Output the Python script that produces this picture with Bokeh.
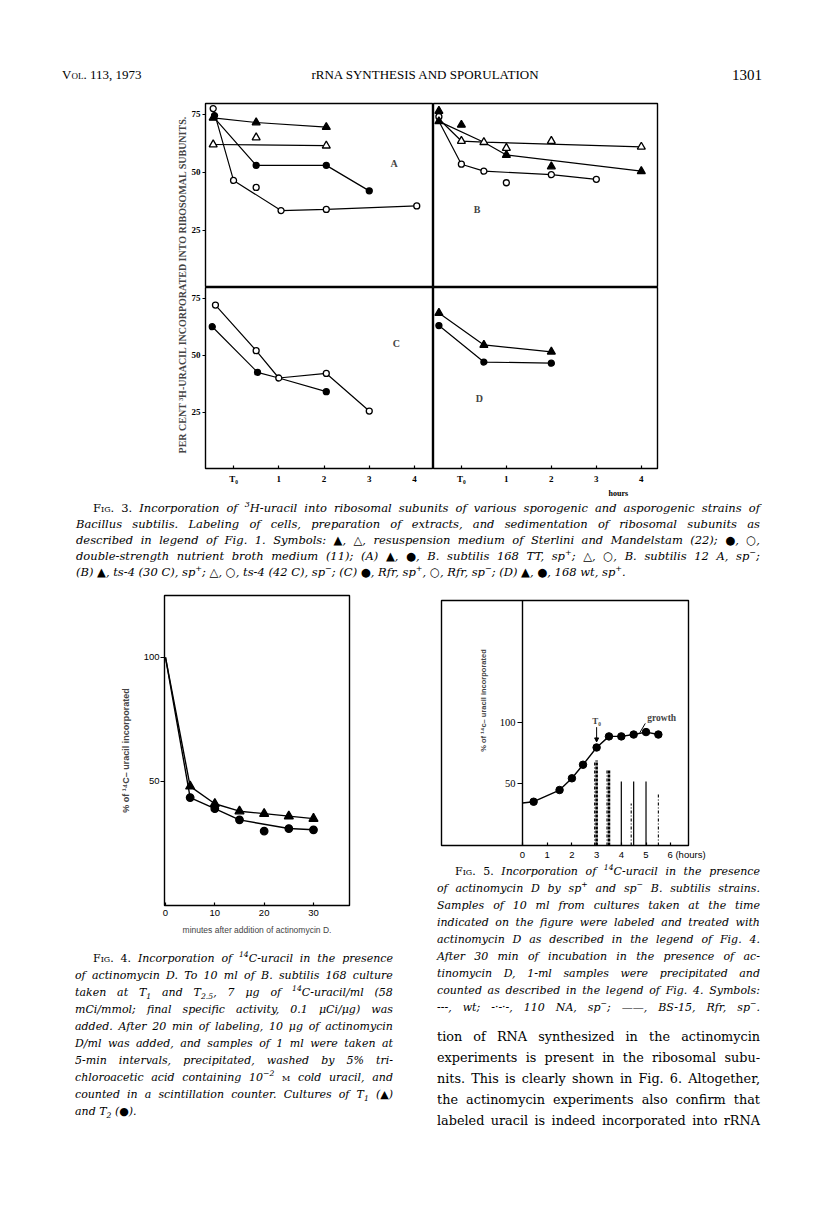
import numpy as np
from bokeh.plotting import figure
from bokeh.models import Label, Div, Arrow, NormalHead, FixedTicker, Range1d, Title
from bokeh.layouts import column, row
from bokeh.embed import file_html
from bokeh.resources import INLINE

# ---------------- Fig. 3 data (per cent 3H-uracil incorporated vs hours) ----------------
f3_xticks = [0, 1, 2, 3, 4]
f3_xlabels = ["T\u2080", "1", "2", "3", "4"]
f3_yticks = [25, 50, 75]

# panel A
A_tri_f_x = [-0.45, 0.5, 2.05]
A_tri_f_y = [73.5, 71.5, 69.5]
A_tri_o_x = [-0.45, 0.5, 2.05]
A_tri_o_y = [62, 65, 61.5]
A_cir_f_x = [-0.42, 0.5, 2.05, 3.0]
A_cir_f_y = [74.5, 53, 53, 42]
A_cir_o_x = [-0.45, 0.0, 0.5, 1.05, 2.05, 4.05]
A_cir_o_y = [77.5, 46.5, 43.5, 33.5, 34, 35.5]
A_curve_tri_f = ([-0.45, 0.5, 2.05], [73.5, 71.5, 69.5])
A_curve_tri_o = ([-0.45, 2.05], [62, 61.5])
A_curve_cir_f = ([-0.45, 0.5, 2.05, 3.0], [74, 53, 53, 42])
A_curve_cir_o = ([-0.45, 0.0, 1.05, 2.05, 4.05], [77.5, 46.5, 33.5, 34, 35.5])

# panel B
B_tri_f_x = [-0.5, -0.5, 0.0, 1.0, 2.0, 4.0]
B_tri_f_y = [76.5, 72, 70.5, 57.5, 52.5, 50.5]
B_tri_o_x = [0.0, 0.5, 1.0, 2.0, 4.0]
B_tri_o_y = [63.5, 63, 60.5, 63.5, 61]
B_cir_o_x = [-0.5, 0.0, 0.5, 1.0, 2.0, 3.0]
B_cir_o_y = [74, 53.5, 50.5, 45.5, 49, 47]
B_curve_tri_o = ([-0.5, 0.0, 0.5, 4.0], [73, 63.5, 63, 61])
B_curve_tri_f = ([-0.5, 0.5, 1.0, 4.0], [72, 63, 57.5, 50.5])
B_curve_cir_o = ([-0.5, 0.0, 0.5, 2.0, 3.0], [72, 53.5, 50.5, 49, 47])

# panel C
C_cir_o_x = [-0.4, 0.5, 1.0, 2.05, 3.0]
C_cir_o_y = [72, 52, 40, 42, 25.5]
C_cir_f_x = [-0.47, 0.53, 2.05]
C_cir_f_y = [62.5, 42.5, 34]
C_curve_cir_o = (C_cir_o_x, C_cir_o_y)
C_curve_cir_f = ([-0.47, 0.53, 1.0, 2.05], [62.5, 42.5, 40, 34])

# panel D
D_tri_f_x = [-0.5, 0.5, 2.0]
D_tri_f_y = [68.5, 54.5, 51.5]
D_cir_f_x = [-0.5, 0.5, 2.0]
D_cir_f_y = [63, 47, 46.5]

# ---------------- Fig. 4 data ----------------
f4_min = [0, 5, 10, 15, 20, 25, 30]
f4_T1 = [100, 48, 41, 38, 37, 36, 35]          # triangles
f4_T2 = [100, 43.5, 39, 34.5, 30, 31, 30.5]    # circles
f4_T2_curve_idx = [0, 1, 2, 3, 5, 6]
f4_xticks = [0, 10, 20, 30]
f4_yticks = [50, 100]

# ---------------- Fig. 5 data ----------------
f5_h = [0.45, 1.5, 2.0, 2.45, 3.0, 3.5, 4.0, 4.5, 5.0, 5.5]
f5_pct = [35.5, 45, 54.5, 65.5, 79.5, 88.5, 88.5, 90, 92, 90]
f5_start = (0.0, 34.5)
wt_x = [3.0, 3.5]
wt_top = [69, 61]
na_x = [2.92, 3.42, 4.4, 5.5]
na_top = [69, 61, 34, 43]
bs_x = [4.0, 4.5, 5.0]
bs_top = [52, 52, 52]
f5_xticks = [0, 1, 2, 3, 4, 5, 6]
f5_xlabels = ["0", "1", "2", "3", "4", "5", "\u00a0" * 12 + "6 (hours)"]
f5_yticks = [50, 100]

NARROW = "Liberation Sans Narrow"
SANS = "Liberation Sans"
SERIF = "DejaVu Serif"


def make_fig(w, h, xr, yr, l, r, t, b, xloc="below", yloc="left"):
    p = figure(width=w, height=h, x_range=Range1d(*xr), y_range=Range1d(*yr),
               output_backend="svg", toolbar_location=None, tools="",
               min_border_left=l, min_border_right=r, min_border_top=t, min_border_bottom=b,
               x_axis_location=xloc, y_axis_location=yloc, margin=(0, 0, 0, 0))
    p.grid.visible = False
    p.outline_line_color = "black"
    p.outline_line_width = 1.4
    p.background_fill_color = "white"
    p.border_fill_color = "white"
    for ax in p.axis:
        ax.axis_line_color = None
        ax.minor_tick_line_color = None
        ax.major_tick_line_color = "black"
        ax.major_tick_line_width = 1.2
        ax.major_label_text_color = "black"
    return p


MS = {"triangle": 8, "circle": 6}


def draw(p, curves, pts, ms=MS, lw=1.2):
    for cx, cy in curves:
        p.line(cx, cy, line_color="black", line_width=lw)
    for mk, filled, x, y in pts:
        p.scatter(x, y, marker=mk, size=ms[mk], fill_color="black" if filled else "white",
                  line_color="black", line_width=1.3)


def f3_axes(p):
    for xa in p.xaxis:
        xa.ticker = FixedTicker(ticks=f3_xticks)
        xa.major_label_overrides = dict(zip(f3_xticks, f3_xlabels))
        xa.major_tick_in = 3
        xa.major_tick_out = 0
        xa.major_label_standoff = 5
        xa.major_label_text_font = NARROW
        xa.major_label_text_font_size = "9px"
        xa.major_label_text_font_style = "bold"
    for ya in p.yaxis:
        ya.ticker = FixedTicker(ticks=f3_yticks)
        ya.major_tick_in = 0
        ya.major_tick_out = 3
        ya.major_label_standoff = 2
        ya.major_label_text_font = NARROW
        ya.major_label_text_font_size = "9px"
        ya.major_label_text_font_style = "bold"


def panel_label(p, txt, x, y):
    p.add_layout(Label(x=x, y=y, text=txt, text_font=NARROW, text_font_size="10px",
                       text_font_style="bold", text_align="center", text_baseline="middle"))


X3A = (-0.62, 4.42)
X3B = (-0.62, 4.36)
Y3 = (0.3, 79.7)

pA = make_fig(245, 192, X3A, Y3, 17, 0, 8, 0, xloc=None)
pB = make_fig(375, 192, X3B, Y3, 0, 151, 8, 0, xloc=None, yloc=None)
pC = make_fig(245, 213, X3A, Y3, 17, 0, 0, 32)
pD = make_fig(375, 213, X3B, Y3, 0, 151, 0, 32, yloc=None)
for p in (pA, pB, pC, pD):
    f3_axes(p)

draw(pA, [A_curve_tri_f, A_curve_tri_o, A_curve_cir_f, A_curve_cir_o],
     [("triangle", True, A_tri_f_x, A_tri_f_y), ("triangle", False, A_tri_o_x, A_tri_o_y),
      ("circle", True, A_cir_f_x, A_cir_f_y), ("circle", False, A_cir_o_x, A_cir_o_y)])
panel_label(pA, "A", 3.55, 54)

draw(pB, [B_curve_tri_o, B_curve_tri_f, B_curve_cir_o],
     [("circle", False, B_cir_o_x, B_cir_o_y), ("triangle", False, B_tri_o_x, B_tri_o_y),
      ("triangle", True, B_tri_f_x, B_tri_f_y)])
panel_label(pB, "B", 0.35, 34)

draw(pC, [C_curve_cir_o, C_curve_cir_f],
     [("circle", True, C_cir_f_x, C_cir_f_y), ("circle", False, C_cir_o_x, C_cir_o_y)])
panel_label(pC, "C", 3.6, 55)

draw(pD, [(D_tri_f_x, D_tri_f_y), (D_cir_f_x, D_cir_f_y)],
     [("triangle", True, D_tri_f_x, D_tri_f_y), ("circle", True, D_cir_f_x, D_cir_f_y)])
panel_label(pD, "D", 0.4, 31)
pD.add_layout(Title(text="hours", align="left", offset=175, standoff=0, text_font=NARROW,
                    text_font_size="8px", text_font_style="bold", text_color="black"), "below")

ylab3 = figure(width=180, height=405, x_range=Range1d(0, 180), y_range=Range1d(0, 405),
               output_backend="svg", toolbar_location=None, tools="", min_border=0,
               x_axis_location=None, y_axis_location=None, margin=(0, 0, 0, 0))
ylab3.grid.visible = False
ylab3.outline_line_color = None
ylab3.add_layout(Label(x=174, y=216, text="PER CENT \u00b3H-URACIL INCORPORATED INTO RIBOSOMAL SUBUNITS.",
                       angle=np.pi / 2, text_align="center", text_baseline="middle",
                       text_font=NARROW, text_font_size="10px", text_font_style="bold"))

fig3 = row(ylab3, column(row(pA, pB), row(pC, pD)))

# ---------------- Fig. 4 ----------------
p4 = make_fig(392, 350, (-0.2, 37.3), (0, 124.9), 156, 51, 5, 35)
for xa in p4.xaxis:
    xa.ticker = FixedTicker(ticks=f4_xticks)
    xa.major_tick_in = 3
    xa.major_tick_out = 0
    xa.major_label_standoff = 4
    xa.major_label_text_font = SANS
    xa.major_label_text_font_size = "9.5px"
    xa.axis_label = "minutes after addition of actinomycin D."
    xa.axis_label_text_font = SANS
    xa.axis_label_text_font_size = "8.5px"
    xa.axis_label_text_font_style = "normal"
    xa.axis_label_standoff = 6
for ya in p4.yaxis:
    ya.ticker = FixedTicker(ticks=f4_yticks)
    ya.major_tick_in = 0
    ya.major_tick_out = 4
    ya.major_label_standoff = 1
    ya.major_label_text_font = SANS
    ya.major_label_text_font_size = "9.5px"
    ya.axis_label = "% of \u00b9\u2074C\u2013 uracil incorporated"
    ya.axis_label_text_font = SANS
    ya.axis_label_text_font_size = "9px"
    ya.axis_label_text_font_style = "bold"
    ya.axis_label_standoff = 10

f4_T2_cx = [f4_min[i] for i in f4_T2_curve_idx]
f4_T2_cy = [f4_T2[i] for i in f4_T2_curve_idx]
draw(p4, [(f4_min, f4_T1), (f4_T2_cx, f4_T2_cy)],
     [("triangle", True, f4_min[1:], f4_T1[1:]), ("circle", True, f4_min[1:], f4_T2[1:])],
     ms={"triangle": 9, "circle": 7.5}, lw=1.4)

# ---------------- Fig. 5 ----------------
p5 = make_fig(408, 272, (-3.28, 6.72), (0, 198.7), 41, 120, 10, 17)
for xa in p5.xaxis:
    xa.ticker = FixedTicker(ticks=f5_xticks)
    xa.major_label_overrides = dict(zip(f5_xticks, f5_xlabels))
    xa.major_tick_in = 3
    xa.major_tick_out = 0
    xa.major_label_standoff = 3
    xa.major_label_text_font = SANS
    xa.major_label_text_font_size = "9.5px"
for ya in p5.yaxis:
    ya.fixed_location = 0
    ya.axis_line_color = "black"
    ya.axis_line_width = 1.4
    ya.ticker = FixedTicker(ticks=f5_yticks)
    ya.major_tick_in = 0
    ya.major_tick_out = 5
    ya.major_label_standoff = 2
    ya.major_label_text_font = NARROW
    ya.major_label_text_font_size = "10.5px"

p5.segment(x0=wt_x, y0=[0] * len(wt_x), x1=wt_x, y1=wt_top, line_color="black",
           line_width=2.6, line_dash="3 1")
p5.segment(x0=na_x, y0=[0] * len(na_x), x1=na_x, y1=na_top, line_color="black",
           line_width=1.1, line_dash="3 2 1 2")
p5.segment(x0=bs_x, y0=[0] * len(bs_x), x1=bs_x, y1=bs_top, line_color="black",
           line_width=1.2)
p5.line([f5_start[0]] + f5_h, [f5_start[1]] + f5_pct, line_color="black", line_width=1.4)
p5.scatter(f5_h, f5_pct, marker="circle", size=7.5, fill_color="black", line_color="black")

p5.add_layout(Label(x=-1.58, y=117.6, text="% of \u00b9\u2074c\u2013 uracil incorporated", angle=np.pi / 2,
                    text_align="center", text_baseline="middle", text_font=SANS,
                    text_font_size="7.5px", text_font_style="bold"))
p5.add_layout(Label(x=3.0, y=101, text="T\u2080", text_align="center", text_baseline="middle",
                    text_font=NARROW, text_font_size="9px", text_font_style="bold"))
p5.add_layout(Arrow(end=NormalHead(size=4, fill_color="black", line_color="black"),
                    x_start=3.0, y_start=96, x_end=3.0, y_end=84, line_width=1, line_color="black"))
p5.add_layout(Label(x=5.05, y=103, text="growth", text_align="left", text_baseline="middle",
                    text_font=NARROW, text_font_size="9.5px", text_font_style="bold"))
p5.add_layout(Arrow(end=None, x_start=4.75, y_start=91.5, x_end=4.97, y_end=99,
                    line_width=1, line_color="black"))

# ---------------- texts ----------------
UP = '<span style="font-style:normal">'
SC = '<span style="font-style:normal;font-variant:small-caps">'
SUP = '<sup style="font-size:0.7em;line-height:0">'
SUB = '<sub style="font-size:0.7em;line-height:0">'

cap3 = [
    f'{SC}Fig.</span> {UP}3.</span> Incorporation of {SUP}3</sup>H-uracil into ribosomal subunits of various sporogenic and asporogenic strains of',
    'Bacillus subtilis. Labeling of cells, preparation of extracts, and sedimentation of ribosomal subunits as',
    'described in legend of Fig. 1. Symbols: \u25b2, \u25b3, resuspension medium of Sterlini and Mandelstam (22); \u25cf, \u25cb,',
    f'double-strength nutrient broth medium (11); (A) \u25b2, \u25cf, B. subtilis 168 TT, sp{SUP}+</sup>; \u25b3, \u25cb, B. subtilis 12 A, sp{SUP}\u2212</sup>;',
    f'(B) \u25b2, ts-4 (30 C), sp{SUP}+</sup>; \u25b3, \u25cb, ts-4 (42 C), sp{SUP}\u2212</sup>; (C) \u25cf, Rfr, sp{SUP}+</sup>, \u25cb, Rfr, sp{SUP}\u2212</sup>; (D) \u25b2, \u25cf, 168 wt, sp{SUP}+</sup>.',
]
cap4 = [
    f'{SC}Fig.</span> {UP}4.</span> Incorporation of {SUP}14</sup>C-uracil in the presence',
    'of actinomycin D. To 10 ml of B. subtilis 168 culture',
    f'taken at T{SUB}1</sub> and T{SUB}2.5</sub>, 7 \u03bcg of {SUP}14</sup>C-uracil/ml (58',
    'mCi/mmol; final specific activity, 0.1 \u03bcCi/\u03bcg) was',
    'added. After 20 min of labeling, 10 \u03bcg of actinomycin',
    'D/ml was added, and samples of 1 ml were taken at',
    '5-min intervals, precipitated, washed by 5% tri-',
    f'chloroacetic acid containing 10{SUP}\u22122</sup> {SC}m</span> cold uracil, and',
    f'counted in a scintillation counter. Cultures of T{SUB}1</sub> (\u25b2)',
    f'and T{SUB}2</sub> (\u25cf).',
]
cap5 = [
    f'{SC}Fig.</span> {UP}5.</span> Incorporation of {SUP}14</sup>C-uracil in the presence',
    f'of actinomycin D by sp{SUP}+</sup> and sp{SUP}\u2212</sup> B. subtilis strains.',
    'Samples of 10 ml from cultures taken at the time',
    'indicated on the figure were labeled and treated with',
    'actinomycin D as described in the legend of Fig. 4.',
    'After 30 min of incubation in the presence of ac-',
    'tinomycin D, 1-ml samples were precipitated and',
    'counted as described in the legend of Fig. 4. Symbols:',
    f'---, wt; -\u00b7-\u00b7-, 110 NA, sp{SUP}\u2212</sup>; \u2014\u2014, BS-15, Rfr, sp{SUP}\u2212</sup>.',
]
body = [
    'tion of RNA synthesized in the actinomycin',
    'experiments is present in the ribosomal subu-',
    'nits. This is clearly shown in Fig. 6. Altogether,',
    'the actinomycin experiments also confirm that',
    'labeled uracil is indeed incorporated into rRNA',
]


def split_words(s):
    words, cur, depth = [], "", 0
    for ch in s:
        if ch == "<":
            depth += 1
        elif ch == ">":
            depth -= 1
        if ch == " " and depth == 0:
            words.append(cur)
            cur = ""
        else:
            cur += ch
    words.append(cur)
    return [w for w in words if w]


def line_html(html, left, top, width, lh, font, size, italic, justify):
    st = (f"position:absolute;left:{left}px;top:{top}px;width:{width}px;height:{lh}px;"
          f"line-height:{lh}px;font-family:'{font}';font-size:{size}px;color:#000;"
          f"font-style:{'italic' if italic else 'normal'};white-space:nowrap;")
    if justify:
        inner = "".join(f"<span>{w}</span>" for w in split_words(html))
        st += "display:flex;justify-content:space-between;"
        return f'<div style="{st}">{inner}</div>'
    return f'<div style="{st}">{html}</div>'


def block(lines, left, right, top0, lh, font, size, italic, indent=0, last_justify=False):
    out = []
    for i, ln in enumerate(lines):
        l = left + (indent if i == 0 else 0)
        just = (i < len(lines) - 1) or last_justify
        out.append(line_html(ln, l, top0 + i * lh, right - l, lh, font, size, italic, just))
    return "".join(out)


def div(inner, w, h):
    return Div(text=f'<div style="position:relative;width:{w}px;height:{h}px;">{inner}</div>',
               width=w, height=h, margin=(0, 0, 0, 0))


hdr_inner = (
    line_html('V<span style="font-variant:small-caps">ol</span>. 113, 1973', 54, 58, 150, 18,
              "Liberation Serif", 13, False, False)
    + '<div style="position:absolute;left:257px;top:58px;width:320px;height:18px;line-height:18px;'
      "text-align:center;font-family:'Liberation Serif';font-size:13px;white-space:nowrap;color:#000\">"
      'rRNA SYNTHESIS AND SPORULATION</div>'
    + '<div style="position:absolute;left:654px;top:57px;width:100px;height:20px;line-height:20px;'
      "text-align:right;font-family:'Liberation Serif';font-size:15px;white-space:nowrap;color:#000\">"
      '1301</div>'
)
header = div(hdr_inner, 800, 87)

cap3_div = div(block(cap3, 68, 752, 0, 16, SERIF, 11.5, True, indent=17), 800, 90)
cap4_div = div(block(cap4, 67, 385, 9.5, 17.1, SERIF, 11, True, indent=18), 392, 268)
txt5_inner = (block(cap5, 37, 360, 0.5, 17.1, SERIF, 11, True, indent=18, last_justify=True)
              + block(body, 37, 360, 163.5, 21, SERIF, 12.8, False, last_justify=True))
txt5_div = div(txt5_inner, 408, 346)

bottom = row(column(p4, cap4_div), column(p5, txt5_div))
page = column(header, fig3, cap3_div, bottom, margin=(8, 0, 0, 8))

open("out.html", "w").write(file_html(page, INLINE))
